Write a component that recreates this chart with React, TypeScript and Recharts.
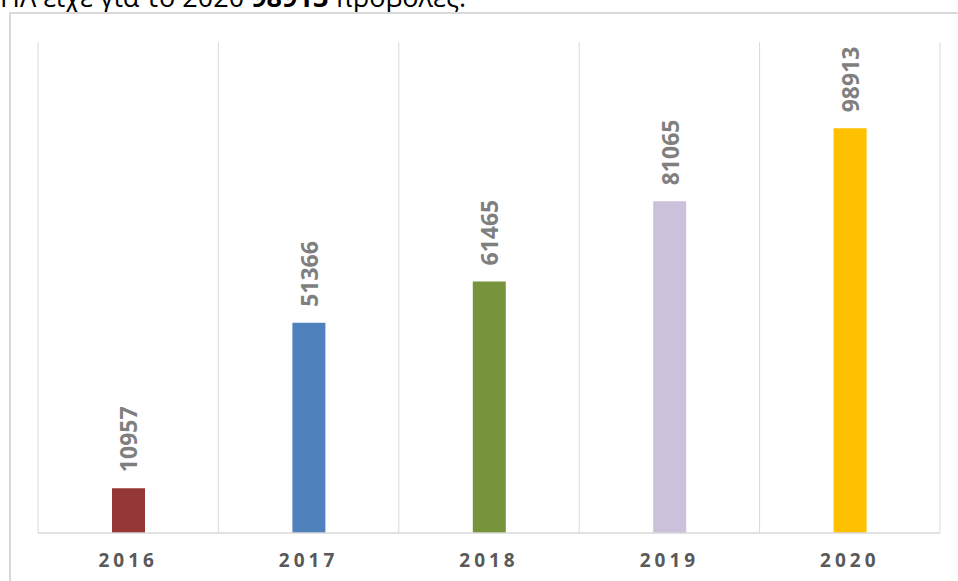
import React from "react";
import { BarChart, Bar, XAxis, YAxis, CartesianGrid, Cell, LabelList } from "recharts";

const years = ["2016", "2017", "2018", "2019", "2020"];
const views = [10957, 51366, 61465, 81065, 98913];
const colors = ["#953735", "#4f81bd", "#77933c", "#ccc1da", "#ffc000"];

const data = years.map((y, i) => ({ year: y, views: views[i] }));

const W = 958;
const H = 581;

const ValueLabel = (props: any) => {
  const { x, y, width, value } = props;
  const cx = Number(x) + Number(width) / 2;
  const cy = Number(y) - 16;
  return (
    <text
      x={cx}
      y={cy}
      transform={`rotate(-90 ${cx} ${cy})`}
      textAnchor="start"
      dominantBaseline="central"
      fill="#7f7f7f"
      fontFamily="'Open Sans', sans-serif"
      fontWeight={700}
      fontSize={23}
    >
      {value}
    </text>
  );
};

const YearTick = (props: any) => {
  const { x, y, payload } = props;
  return (
    <text
      x={x}
      y={Number(y) + 19}
      textAnchor="middle"
      dominantBaseline="central"
      fill="#595959"
      fontFamily="'Open Sans', sans-serif"
      fontWeight={700}
      fontSize={19}
      letterSpacing={4}
    >
      {payload.value}
    </text>
  );
};

export default function App() {
  return (
    <div style={{ position: "absolute", left: 0, top: 0, width: W, height: H, background: "#fff", overflow: "hidden" }}>
      <div
        style={{
          position: "absolute",
          left: 0,
          top: -21,
          whiteSpace: "nowrap",
          fontFamily: "'Open Sans', sans-serif",
          fontSize: 27,
          color: "#000",
          lineHeight: "36px",
        }}
      >
        ΗΛ είχε για το 2020 <b>98913</b> προβολές.
      </div>
      <div
        style={{
          position: "absolute",
          left: 9,
          top: 12,
          width: W,
          height: H,
          borderLeft: "2px solid #d9d9d9",
          borderTop: "2px solid #d9d9d9",
        }}
      />
      <div style={{ position: "absolute", left: 0, top: 0 }}>
        <BarChart
          width={W}
          height={H}
          data={data}
          margin={{ top: 42, left: 38, right: 18, bottom: 0 }}
          barSize={33}
        >
          <CartesianGrid
            horizontal={false}
            stroke="#d9d9d9"
            verticalCoordinatesGenerator={({ offset }: any) =>
              years.map((_, i) => offset.left + (i * offset.width) / years.length).concat([offset.left + offset.width])
            }
          />
          <YAxis hide domain={[0, 120000]} />
          <XAxis
            dataKey="year"
            height={48}
            axisLine={{ stroke: "#d9d9d9", strokeWidth: 1.5 }}
            tickLine={false}
            tick={<YearTick />}
            interval={0}
          />
          <Bar dataKey="views" isAnimationActive={false}>
            {data.map((d, i) => (
              <Cell key={d.year} fill={colors[i]} />
            ))}
            <LabelList dataKey="views" content={<ValueLabel />} />
          </Bar>
        </BarChart>
      </div>
    </div>
  );
}
